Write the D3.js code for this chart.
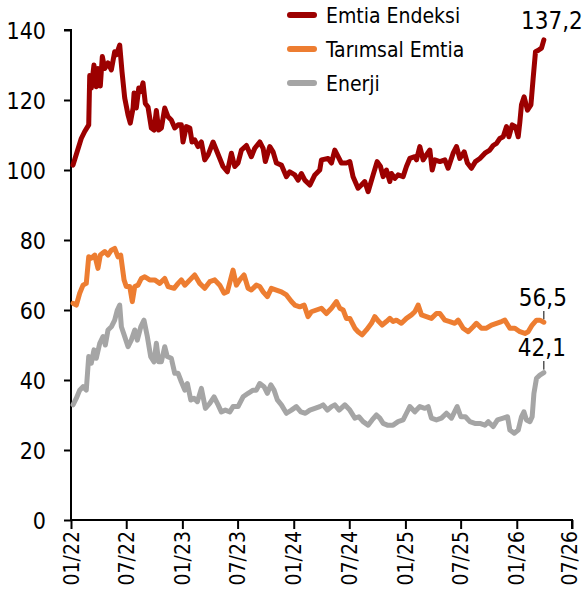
<!DOCTYPE html>
<html><head><meta charset="utf-8">
<script src="https://cdn.jsdelivr.net/npm/d3@7"></script>
<style>
body{margin:0;background:#fff}
svg{display:block}
text{font-family:"DejaVu Sans Condensed","DejaVu Sans",sans-serif;fill:#000}
</style>
</head><body>
<svg id="chart" width="583" height="615"></svg>
<script>
// ---- data (time in years since 01/2022) ----
const seriesNames = ["Emtia Endeksi", "Tarımsal Emtia", "Enerji"];
const seriesColors = ["#9c0000", "#ed7d31", "#a5a5a5"];
const xTickDates = ["2022-01-01","2022-07-01","2023-01-01","2023-07-01","2024-01-01","2024-07-01","2025-01-01","2025-07-01","2026-01-01","2026-07-01"];
const xTickLabels = ["01/22","07/22","01/23","07/23","01/24","07/24","01/25","07/25","01/26","07/26"];
const yTicks = [0,20,40,60,80,100,120,140];
const endLabels = ["137,2","56,5","42,1"];

const emtiaT = [0.018,0.092,0.123,0.159,0.168,0.182,0.206,0.227,0.242,0.263,0.281,0.303,0.332,0.362,0.392,0.407,0.437,0.458,0.482,0.512,0.532,0.557,0.566,0.586,0.608,0.626,0.646,0.667,0.691,0.721,0.745,0.766,0.787,0.811,0.841,0.871,0.900,0.931,0.961,0.990,1.005,1.035,1.066,1.086,1.110,1.140,1.170,1.200,1.230,1.275,1.304,1.335,1.364,1.403,1.439,1.469,1.499,1.529,1.574,1.618,1.649,1.694,1.724,1.744,1.784,1.813,1.843,1.888,1.933,1.963,2.008,2.038,2.067,2.098,2.143,2.188,2.232,2.247,2.307,2.337,2.367,2.397,2.426,2.471,2.502,2.531,2.576,2.606,2.636,2.666,2.711,2.747,2.777,2.801,2.830,2.861,2.875,2.906,2.935,2.980,3.010,3.040,3.085,3.100,3.130,3.160,3.189,3.220,3.241,3.265,3.310,3.355,3.384,3.429,3.459,3.489,3.528,3.557,3.593,3.629,3.669,3.714,3.758,3.788,3.818,3.848,3.878,3.908,3.929,3.959,3.988,4.013,4.028,4.042,4.066,4.096,4.127,4.147,4.168,4.198,4.222,4.243];
const emtiaV = [101.4,109,111,112.9,127,123.4,130,123.8,129,124,132.4,129,130.6,128.6,133.8,132.9,135.7,128,120.6,115.7,113.4,117.7,122,117.7,123.4,122.4,124.9,119,118,112,111.4,117,111.4,112,117.7,115.2,114.3,112,112.9,112.9,108,112.4,112,108,108.6,106.7,108,102.9,104.3,108,105.7,103.3,101,99.5,104.8,101,102,105.7,107,103.8,106.2,108,106.2,102.4,106.7,105.2,102,101.4,98.1,99.5,98.6,97.1,99,97.1,95.7,98.6,100,102.9,103.3,102,105.7,103.8,102,102,102.4,98.1,94.8,95.7,96.7,93.8,98.6,102.4,101,98.1,100,96.7,99,97.6,98.6,98.1,101,103.3,103.8,102.9,106.7,102.9,104.3,105.7,100,102.9,102.4,102.9,100.5,104.8,106.7,103.3,105.2,102,100.5,102.4,103.3,104.8,105.7,107,107.6,109,109.5,112.4,109.5,112.9,112.4,109.5,113.8,118.6,120.9,117.1,118.6,126.2,133.8,134.3,134.8,137.2];

const tarimT = [0.018,0.048,0.078,0.108,0.137,0.159,0.182,0.213,0.242,0.263,0.303,0.332,0.362,0.392,0.422,0.446,0.476,0.496,0.527,0.550,0.572,0.601,0.631,0.662,0.706,0.751,0.796,0.841,0.871,0.925,0.961,0.990,1.021,1.066,1.110,1.155,1.200,1.245,1.290,1.335,1.373,1.403,1.454,1.484,1.514,1.553,1.589,1.618,1.663,1.694,1.724,1.762,1.798,1.843,1.888,1.933,1.978,2.008,2.053,2.092,2.127,2.157,2.202,2.247,2.292,2.337,2.382,2.412,2.442,2.471,2.502,2.547,2.576,2.612,2.651,2.696,2.726,2.762,2.792,2.830,2.861,2.890,2.920,2.965,3.010,3.055,3.085,3.115,3.145,3.189,3.234,3.279,3.310,3.355,3.399,3.444,3.474,3.519,3.564,3.609,3.638,3.683,3.728,3.773,3.818,3.863,3.893,3.938,3.983,4.028,4.073,4.102,4.138,4.177,4.207,4.243];
const tarimV = [61.9,61.4,64.8,67.1,67.6,75.2,74.8,75.7,71.9,75.7,76.7,75.7,77.1,77.6,75.2,75.7,68.6,66.7,66.7,62.4,66.7,67.1,69,69.5,68.6,68.6,67.6,69,66.7,66.2,67.6,68.6,67.1,68.6,70,67.6,66.2,68.1,68.6,67.1,64.8,65.2,71.4,67.1,68.6,70,66.2,65.7,67.1,66.7,65.2,63.8,66.2,65.7,65.2,64.3,62.4,61.4,60.9,61.4,58.1,59.5,60,60.5,59,60.5,62.4,60.5,60,57.6,57.6,54.8,53.8,52.9,54.3,56.2,58.1,56.7,55.7,56.7,57.6,56.7,57.1,56.2,57.6,58.6,59.5,61.4,58.6,58.1,57.6,59,59,57.1,56.7,56.2,57.1,54.8,53.8,55.2,56.2,54.8,54.8,55.7,56.2,56.7,57.1,54.8,54.8,53.8,53.3,53.8,55.7,57.1,57.1,56.5];

const enerjiT = [0.018,0.048,0.078,0.108,0.137,0.159,0.182,0.206,0.227,0.258,0.287,0.308,0.332,0.362,0.392,0.416,0.437,0.452,0.482,0.512,0.541,0.572,0.595,0.626,0.655,0.685,0.715,0.745,0.766,0.787,0.811,0.841,0.864,0.900,0.931,0.961,0.990,1.021,1.044,1.075,1.104,1.134,1.170,1.206,1.245,1.284,1.320,1.349,1.385,1.425,1.454,1.499,1.544,1.589,1.634,1.663,1.694,1.732,1.762,1.793,1.822,1.852,1.888,1.933,1.978,2.022,2.062,2.103,2.143,2.188,2.232,2.262,2.301,2.337,2.367,2.406,2.457,2.502,2.547,2.583,2.621,2.666,2.702,2.741,2.771,2.801,2.839,2.890,2.935,2.980,3.010,3.040,3.085,3.130,3.175,3.205,3.234,3.279,3.324,3.369,3.414,3.465,3.498,3.539,3.579,3.624,3.669,3.714,3.744,3.788,3.827,3.878,3.917,3.938,3.977,4.013,4.042,4.064,4.087,4.118,4.138,4.154,4.177,4.207,4.243];
const enerjiV = [32.9,34.8,37.1,38.1,37.1,46.7,44.8,48.6,46.2,50.5,52.4,50,54.3,55.2,57.1,60,61.4,55.2,52.4,49.5,51.4,54.3,51.4,55.2,57.1,52.4,46.7,45.2,50.5,45.2,45.2,49.5,46.7,46.2,41.9,41.9,39.5,37.1,39,34.3,34.8,33.8,37.6,31.9,33.3,35.2,32.9,30.9,31.4,30.9,32.4,32.4,35.2,36.2,37.1,37.1,39,38.1,36.2,38.6,37.1,34.3,32.9,30.5,31.4,32.4,30.9,30.5,31.4,31.9,32.4,32.9,31.4,32.4,32.9,31.4,32.9,31.4,29.1,29.5,28.1,27.1,28.6,30,29.1,27.6,27.1,27.1,28.1,28.6,30.5,32.4,30.9,32.4,31.9,32.4,29.1,28.6,29.1,30.5,29.1,32.4,29.5,29.5,28.1,27.6,27.6,27.1,28.1,26.7,28.6,29.1,29.5,25.7,24.8,25.7,29.5,30.9,28.6,28.1,29.5,36.2,40.5,41.4,42.1];

// ---- build ----
const base = Date.UTC(2022,0,1);
const toDate = f => new Date(base + f*365.25*864e5);
const mk = (T,V) => T.map((t,i)=>({t:toDate(t), v:V[i]}));
const series = [mk(emtiaT,emtiaV), mk(tarimT,tarimV), mk(enerjiT,enerjiV)];

const svg = d3.select("#chart");
const x = d3.scaleUtc().domain([new Date(xTickDates[0]), new Date(xTickDates[xTickDates.length-1])]).range([71,572]);
const y = d3.scaleLinear().domain([0,140]).range([520,30]);

// y axis
const yAx = svg.append("g").attr("transform","translate(71,0)")
  .call(d3.axisLeft(y).tickValues(yTicks).tickSize(7).tickPadding(18).tickFormat(d3.format("d")));
yAx.select(".domain").attr("stroke","#000").attr("stroke-width",2).attr("d","M-7,30H0V520");
yAx.selectAll(".tick line").attr("stroke","#000").attr("stroke-width",2);
yAx.selectAll(".tick text").attr("font-size",23).attr("fill","#000")
  .attr("font-family",'"DejaVu Sans Condensed","DejaVu Sans",sans-serif').attr("dy","0.36em");

// x axis
const xAx = svg.append("g").attr("transform","translate(0,520)")
  .call(d3.axisBottom(x).tickValues(xTickDates.map(d=>new Date(d))).tickSize(9)
    .tickFormat((d,i)=>xTickLabels[i]));
xAx.select(".domain").attr("stroke","#000").attr("stroke-width",2).attr("d","M71,0H572V9");
xAx.selectAll(".tick line").attr("stroke","#000").attr("stroke-width",2);
xAx.selectAll(".tick text").attr("font-size",21).attr("fill","#000")
  .attr("font-family",'"DejaVu Sans Condensed","DejaVu Sans",sans-serif')
  .attr("text-anchor","end").attr("transform","rotate(-90)")
  .attr("x",-11).attr("y",(d,i)=> i===xTickDates.length-1 ? -3 : 0).attr("dy","0.34em");

// lines
const line = d3.line().x(d=>x(d.t)).y(d=>y(d.v));
series.forEach((s,i)=>{
  svg.append("path").datum(s).attr("d",line).attr("fill","none")
    .attr("stroke",seriesColors[i]).attr("stroke-width",5)
    .attr("stroke-linejoin","round").attr("stroke-linecap","round");
});

// legend
const leg = svg.append("g");
seriesNames.forEach((n,i)=>{
  const ly = 15 + i*34;
  leg.append("line").attr("x1",290).attr("x2",314).attr("y1",ly).attr("y2",ly)
    .attr("stroke",seriesColors[i]).attr("stroke-width",6).attr("stroke-linecap","round");
  leg.append("text").attr("x",326).attr("y",ly).attr("dy","0.36em").attr("font-size",21).text(n);
});

// end labels
const lastPts = series.map(s=>s[s.length-1]);
const lx = x(lastPts[0].t);
svg.append("text").attr("x",lx+8).attr("y",29).attr("text-anchor","middle").attr("font-size",24).text(endLabels[0]);
svg.append("text").attr("x",lx-1).attr("y",306).attr("text-anchor","middle").attr("font-size",24).text(endLabels[1]);
svg.append("line").attr("x1",x(lastPts[1].t)).attr("x2",x(lastPts[1].t)).attr("y1",311).attr("y2",y(lastPts[1].v)-3).attr("stroke","#000").attr("stroke-width",1);
svg.append("text").attr("x",lx-2).attr("y",356).attr("text-anchor","middle").attr("font-size",24).text(endLabels[2]);
svg.append("line").attr("x1",x(lastPts[2].t)).attr("x2",x(lastPts[2].t)).attr("y1",361).attr("y2",y(lastPts[2].v)-3).attr("stroke","#000").attr("stroke-width",1);
</script>
</body></html>
